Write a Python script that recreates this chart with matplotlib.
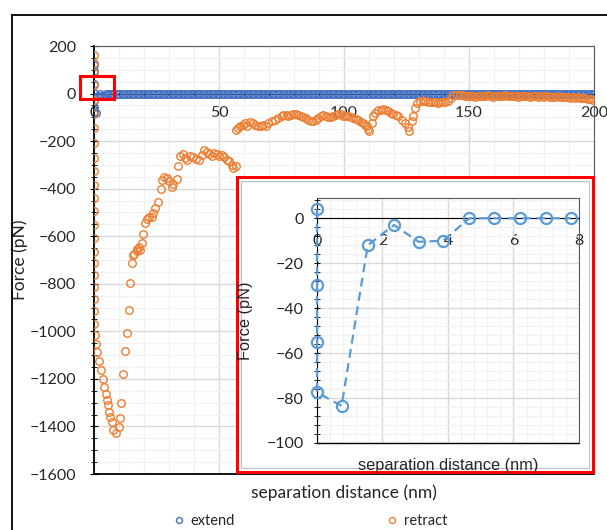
import matplotlib
matplotlib.use("Agg")
import matplotlib.pyplot as plt
from matplotlib.patches import Rectangle
from matplotlib.lines import Line2D
from matplotlib.ticker import MultipleLocator

plt.rcParams['font.family'] = ['Lato', 'DejaVu Sans']
plt.rcParams['axes.unicode_minus'] = True

ext_x_head = [0, 0, 0, 0, 0, 0, 0, 0.75, 1.55, 2.35, 3.1, 3.85, 4.65, 5.4, 6.2, 7.0, 7.75]
ext_y_head = [122, 94, 40, 4, -29.5, -55, -77.5, -83.5, -12, -3, -10.5, -10, 0, 0, 0, 0, 0]
ext_x_tail = list(range(9, 201))
ext_y_tail = [0] * len(ext_x_tail)
extend_x = ext_x_head + ext_x_tail
extend_y = ext_y_head + ext_y_tail

# inset: the first 8 nm of the extend curve
inset_x = [0, 0, 0, 0, 0.75, 1.55, 2.35, 3.1, 3.85, 4.65, 5.4, 6.2, 7.0, 7.75]
inset_y = [4, -29.5, -55, -77.5, -83.5, -12, -3, -10.5, -10, 0, 0, 0, 0, 0]

main_yticks = [200, 0, -200, -400, -600, -800, -1000, -1200, -1400, -1600]
inset_yticks = [0, -20, -40, -60, -80, -100]

retract_x = [
    0, 0, 0, 0, 0, 0, 0, 0, 0, 0, 0, 0, 0, 0, 0, 0, 0, 0, 0, 0, 0, 0,
    0.4, 0.7, 1.1, 2.1, 2.8, 3.5, 4.1, 4.7, 5.1, 5.6, 6.1, 6.5, 7.1, 7.7, 8.8,
    10.1, 10.4, 10.8, 11.7, 12.5, 13.2, 13.9, 14.4, 15.1, 15.7, 16.0, 17.1, 17.3,
    18.1, 18.4, 19.1, 19.5, 20.4, 21.1, 22.1, 23.1, 23.7, 24.4, 25.7, 26.7, 27.3,
    28.0, 29.1, 30.0, 31.1, 31.7, 33.1, 33.7, 34.4, 35.5, 36.4, 37.3, 38.4, 39.7,
    40.8, 42.1, 43.1, 44.0, 45.1, 46.1, 47.1, 48.0, 49.1, 50.1, 51.1, 52.0, 53.1,
    54.1, 55.1, 55.7, 56.7,
    56.7, 57.7, 58.4, 59.5, 60.4, 61.3, 62.4, 63.5, 64.4, 65.7, 66.7, 67.7, 68.8,
    69.7, 71.1, 72.4, 73.7, 75.1, 75.7, 77.1, 77.7, 78.7, 79.7, 80.7, 81.7, 82.7,
    83.7, 84.7, 85.7, 86.7, 87.7, 88.7, 89.7, 90.7, 91.7, 92.7, 93.7, 94.7, 95.7,
    96.7, 97.7, 98.7, 99.7, 100.7, 101.7, 102.7, 103.7, 104.7, 105.7, 106.7, 107.7,
    108.4, 109.1, 109.6, 110.1, 111.1, 111.7, 112.4, 113.7, 114.7, 115.7, 116.7,
    117.7, 118.7, 119.7, 120.7, 121.7, 123.1, 124.4, 125.5, 126.1, 127.1, 127.7,
    128.4, 129.1, 130.4, 131.4, 132.4, 133.4, 134.4, 135.4, 136.4, 137.4, 138.4,
    139.4, 140.4, 141.7, 142.7, 143.7, 145.0, 146.4, 147.5, 148.5, 149.5, 150.5,
    151.5, 152.5, 153.5, 154.5, 155.5, 156.5, 157.5, 158.5, 159.5, 160.5, 161.5,
    162.5, 163.5, 164.5, 165.5, 166.5, 167.5, 168.5, 169.5, 170.5, 171.5, 172.5,
    173.5, 174.5, 175.5, 176.5, 177.5, 178.5, 179.5, 180.5, 181.5, 182.5, 183.5,
    184.5, 185.5, 186.5, 187.5, 188.5, 189.5, 190.5, 191.5, 192.5, 193.5, 194.5,
    195.5, 196.5, 197.5, 198.5, 199.5,
]
retract_y = [
    164, 130, 88, 38, -25, -85, -144, -207, -270, -327, -383, -439, -495, -552,
    -608, -665, -712, -763, -814, -864, -915, -970,
    -1016, -1054, -1088, -1124, -1161, -1199, -1234, -1262, -1290, -1311, -1339,
    -1360, -1381, -1416, -1428,
    -1402, -1363, -1300, -1178, -1083, -1009, -911, -798, -714, -679, -676, -655,
    -662, -644, -658, -630, -590, -545, -528, -521, -521, -503, -482, -454, -402,
    -363, -351, -356, -366, -391, -380, -360, -304, -264, -253, -271, -278, -264,
    -267, -275, -281, -257, -239, -247, -253, -264, -250, -253, -261, -257, -267,
    -278, -285, -299, -313, -304,
    -155, -145, -138, -131, -124, -135, -121, -124, -131, -135, -138, -131, -138,
    -124, -117, -110, -102, -96, -89, -89, -96, -90, -84, -86, -89, -94,
    -98, -104, -110, -114, -117, -110, -102, -95, -89, -93, -98, -97, -96,
    -90, -84, -88, -93, -95, -96, -99, -102, -107, -113, -118, -124,
    -131, -138, -149, -159, -124, -96, -82, -70, -68, -67, -71,
    -75, -80, -84, -90, -96, -110, -124, -141, -159, -117, -96,
    -60, -39, -32, -31, -32, -35, -37, -36, -37, -38, -37,
    -36, -37, -32, -18, -8, -6, -4, -8, -11, -9, -12,
    -10, -13, -11, -9, -12, -10, -8, -11, -13, -10, -12,
    -9, -11, -8, -10, -12, -9, -11, -13, -10, -12, -9,
    -11, -13, -10, -12, -14, -11, -13, -10, -12, -14, -13,
    -15, -12, -14, -16, -13, -15, -17, -15, -18, -16, -19,
    -18, -20, -22, -21, -25,
]

blue = '#4472C4'
light_blue = '#5B9BD5'
orange = '#ED7D31'
grid_major = '#D9D9D9'
grid_minor = '#F2F2F2'
box_grey = '#595959'
text_col = '#262626'


def minus(v):
    return str(int(v)).replace('-', '\u2212')


fig = plt.figure(figsize=(6.07, 5.30), dpi=100)

# outer chart frame (only top and left edges are visible)
fig.add_artist(Line2D([12 / 607, 12 / 607], [0, 1 - 15 / 530], transform=fig.transFigure,
                      color='black', lw=1.3))
fig.add_artist(Line2D([12 / 607, 1], [1 - 15 / 530, 1 - 15 / 530], transform=fig.transFigure,
                      color='black', lw=1.3))

# ---------------- main chart ----------------
ax = fig.add_axes([94 / 607, 56 / 530, 500 / 607, 428 / 530])
ax.set_zorder(0)
ax.plot(extend_x, extend_y, linestyle='none', marker='o', markersize=5.4,
        markerfacecolor='none', markeredgecolor=blue, markeredgewidth=1.0,
        label='extend', zorder=3)
ax.plot(retract_x, retract_y, linestyle='none', marker='o', markersize=5.4,
        markerfacecolor='none', markeredgecolor=orange, markeredgewidth=1.0,
        label='retract', zorder=4)

ax.xaxis.set_major_locator(MultipleLocator(50))
ax.xaxis.set_minor_locator(MultipleLocator(10))
ax.yaxis.set_minor_locator(MultipleLocator(50))
ax.set_yticks(main_yticks)
ax.set_yticklabels([minus(v) for v in main_yticks])
ax.set_xlim(0, 200)
ax.set_ylim(-1600, 200)
ax.grid(which='major', color=grid_major, lw=1.0, zorder=0)
ax.grid(which='minor', color=grid_minor, lw=1.0, zorder=0)
ax.set_axisbelow(True)

ax.spines['bottom'].set_position(('data', 0))
ax.spines['bottom'].set_color('black')
ax.spines['left'].set_color('black')
ax.spines['left'].set_linewidth(1.3)
ax.spines['top'].set_color(box_grey)
ax.spines['right'].set_color(box_grey)
ax.add_line(Line2D([0, 1], [0, 0], transform=ax.transAxes, color='black', lw=1.3,
                   clip_on=False))

ax.tick_params(axis='both', which='both', direction='inout', color='black',
               labelsize=11.5, labelcolor=text_col)
ax.tick_params(axis='y', which='major', length=6, pad=10)
ax.tick_params(axis='y', which='minor', length=5)
ax.tick_params(axis='x', which='major', length=0, pad=9)
ax.tick_params(axis='x', which='minor', length=3)

ax.set_xlabel('separation distance (nm)', fontsize=12.5, color=text_col)
ax.xaxis.set_label_coords(0.5, -0.025)
ax.set_ylabel('Force (pN)', fontsize=12.5, color=text_col)
ax.yaxis.set_label_coords(-0.132, 0.5)

fig.legend(loc='center', bbox_to_anchor=(311 / 607, 1 - 521 / 530), ncol=2,
           frameon=False, fontsize=10.5, handlelength=0.6, handletextpad=0.5,
           columnspacing=10.5, markerscale=0.8, labelcolor=text_col)

# small red box around the contact region
fig.add_artist(Rectangle((80 / 607, 1 - 99 / 530), 34 / 607, 23 / 530,
                         transform=fig.transFigure, fill=False, edgecolor='#FF0000',
                         lw=2.2, zorder=5))

# big red frame behind the inset
fig.add_artist(Rectangle((237 / 607, 1 - 472 / 530), 356 / 607, 295 / 530,
                         transform=fig.transFigure, facecolor='white', edgecolor='#FF0000',
                         lw=2.2, zorder=1))
fig.add_artist(Rectangle((241 / 607, 1 - 468 / 530), 348 / 607, 287 / 530,
                         transform=fig.transFigure, fill=False, edgecolor='#BFBFBF',
                         lw=0.8, zorder=1.1))

# ---------------- inset ----------------
axi = fig.add_axes([317 / 607, 87 / 530, 262 / 607, 245 / 530])
axi.set_zorder(2)
axi.plot(inset_x, inset_y, linestyle=(0, (4, 2.5)), color=light_blue, lw=1.6,
         marker='o', markersize=8, markerfacecolor='none', markeredgecolor=light_blue,
         markeredgewidth=1.6, clip_on=False, zorder=3)
axi.xaxis.set_major_locator(MultipleLocator(2))
axi.xaxis.set_minor_locator(MultipleLocator(0.4))
axi.yaxis.set_minor_locator(MultipleLocator(4))
axi.set_yticks(inset_yticks)
axi.set_yticklabels([minus(v) for v in inset_yticks])
axi.set_xlim(0, 8)
axi.set_ylim(-100, 9)
axi.grid(which='major', color=grid_major, lw=1.0, zorder=0)
axi.grid(which='minor', color=grid_minor, lw=1.0, zorder=0)
axi.set_axisbelow(True)

axi.spines['bottom'].set_position(('data', 0))
axi.spines['bottom'].set_color('black')
axi.spines['left'].set_color('black')
axi.spines['top'].set_color(box_grey)
axi.spines['right'].set_color(box_grey)
axi.add_line(Line2D([0, 1], [0, 0], transform=axi.transAxes, color='black', lw=1.0,
                    clip_on=False))
axi.tick_params(axis='both', which='both', direction='inout', color='black',
                labelsize=11.5, labelcolor=text_col)
axi.tick_params(axis='y', which='major', length=5, pad=7)
axi.tick_params(axis='y', which='minor', length=4)
axi.tick_params(axis='x', which='major', length=0, pad=11)
axi.tick_params(axis='x', which='minor', length=0)

axi.set_xlabel('separation distance (nm)', fontsize=11.8, color=text_col,
               family=['Liberation Sans', 'DejaVu Sans'])
axi.xaxis.set_label_coords(0.5, -0.06)
axi.set_ylabel('Force (pN)', fontsize=11.8, color=text_col,
               family=['Liberation Sans', 'DejaVu Sans'])
axi.yaxis.set_label_coords(-0.245, 0.5)

fig.savefig('out.png', dpi=100)
